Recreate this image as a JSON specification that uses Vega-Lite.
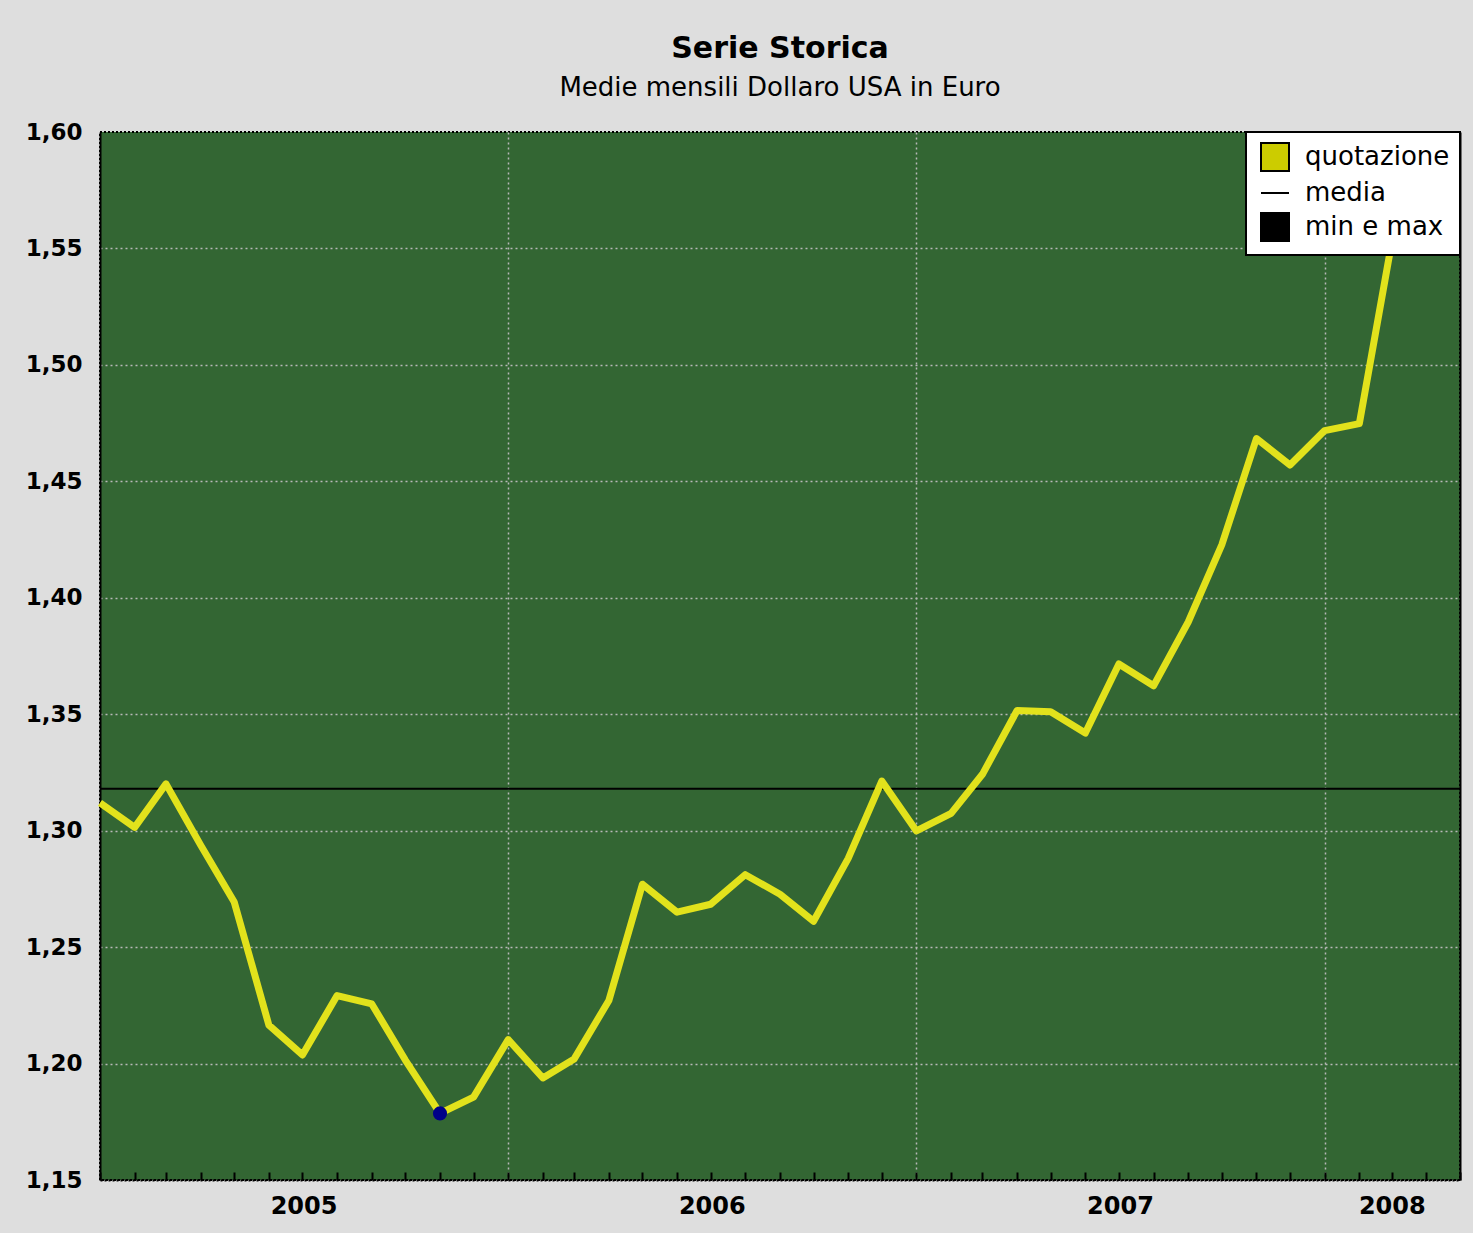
{
  "$schema": "https://vega.github.io/schema/vega-lite/v6.json",
  "autosize": {"type": "none"},
  "width": 1360,
  "height": 1048,
  "padding": {"left": 100, "top": 132, "right": 13, "bottom": 53},
  "background": "#dedede",
  "view": {"fill": "#336633", "stroke": "black", "strokeDash": [2, 2], "strokeWidth": 2},
  "title": {
    "text": "Serie Storica",
    "subtitle": "Medie mensili Dollaro USA in Euro",
    "anchor": "middle",
    "font": "DejaVu Sans",
    "fontSize": 30,
    "fontWeight": "bold",
    "color": "black",
    "subtitleFont": "DejaVu Sans",
    "subtitleFontSize": 26,
    "subtitleColor": "black",
    "subtitlePadding": 11,
    "offset": 20
  },
  "datasets": {
    "quotazione": [
      {"data": "2005-01-01", "valore": 1.3119},
      {"data": "2005-02-01", "valore": 1.3014},
      {"data": "2005-03-01", "valore": 1.3201},
      {"data": "2005-04-01", "valore": 1.2938},
      {"data": "2005-05-01", "valore": 1.2694},
      {"data": "2005-06-01", "valore": 1.2165},
      {"data": "2005-07-01", "valore": 1.2037},
      {"data": "2005-08-01", "valore": 1.2292},
      {"data": "2005-09-01", "valore": 1.2256},
      {"data": "2005-10-01", "valore": 1.2015},
      {"data": "2005-11-01", "valore": 1.1786},
      {"data": "2005-12-01", "valore": 1.1856},
      {"data": "2006-01-01", "valore": 1.2103},
      {"data": "2006-02-01", "valore": 1.1938},
      {"data": "2006-03-01", "valore": 1.2020},
      {"data": "2006-04-01", "valore": 1.2271},
      {"data": "2006-05-01", "valore": 1.2770},
      {"data": "2006-06-01", "valore": 1.2650},
      {"data": "2006-07-01", "valore": 1.2684},
      {"data": "2006-08-01", "valore": 1.2811},
      {"data": "2006-09-01", "valore": 1.2727},
      {"data": "2006-10-01", "valore": 1.2611},
      {"data": "2006-11-01", "valore": 1.2881},
      {"data": "2006-12-01", "valore": 1.3213},
      {"data": "2007-01-01", "valore": 1.2999},
      {"data": "2007-02-01", "valore": 1.3074},
      {"data": "2007-03-01", "valore": 1.3242},
      {"data": "2007-04-01", "valore": 1.3516},
      {"data": "2007-05-01", "valore": 1.3511},
      {"data": "2007-06-01", "valore": 1.3419},
      {"data": "2007-07-01", "valore": 1.3716},
      {"data": "2007-08-01", "valore": 1.3622},
      {"data": "2007-09-01", "valore": 1.3896},
      {"data": "2007-10-01", "valore": 1.4227},
      {"data": "2007-11-01", "valore": 1.4684},
      {"data": "2007-12-01", "valore": 1.4570},
      {"data": "2008-01-01", "valore": 1.4718},
      {"data": "2008-02-01", "valore": 1.4748},
      {"data": "2008-03-01", "valore": 1.5527}
    ],
    "media": [{"media": 1.318}],
    "minmax": [
      {"data": "2005-11-01", "valore": 1.1786},
      {"data": "2008-03-01", "valore": 1.5527}
    ],
    "legenda": [
      {"voce": "quotazione"},
      {"voce": "media"},
      {"voce": "min e max"}
    ]
  },
  "layer": [
    {
      "data": {"name": "media"},
      "mark": {"type": "rule", "color": "black", "strokeWidth": 2},
      "encoding": {
        "y": {
          "field": "media", "type": "quantitative", "title": null,
          "scale": {"domain": [1.15, 1.6], "nice": false, "zero": false},
          "axis": null
        }
      }
    },
    {
      "data": {"name": "quotazione"},
      "mark": {"type": "line", "color": "#e2e21c", "strokeWidth": 7, "strokeJoin": "round", "strokeCap": "butt"},
      "encoding": {
        "x": {
          "field": "data", "type": "temporal", "title": null,
          "scale": {"type": "utc", "domain": [{"year": 2005, "month": 1, "date": 1, "utc": true}, {"year": 2008, "month": 5, "date": 1, "utc": true}], "nice": false},
          "axis": {
            "orient": "bottom",
            "tickCount": {"interval": "month", "step": 1},
            "labels": false,
            "ticks": true,
            "tickSize": -8,
            "tickColor": "black",
            "tickWidth": 2,
            "domain": true,
            "domainColor": "black",
            "domainWidth": 2,
            "domainDash": [2, 2],
            "grid": true,
            "gridColor": "#b8b8b8",
            "gridWidth": 1.5,
            "gridDash": [2, 3],
            "gridOpacity": {"condition": {"test": "utcmonth(datum.value) === 0 && utcyear(datum.value) > 2005", "value": 1}, "value": 0}
          }
        },
        "y": {
          "field": "valore", "type": "quantitative", "title": null,
          "scale": {"domain": [1.15, 1.6], "nice": false, "zero": false},
          "axis": {
            "orient": "left",
            "values": [1.15, 1.2, 1.25, 1.3, 1.35, 1.4, 1.45, 1.5, 1.55, 1.6],
            "labelExpr": "replace(format(datum.value, '.2f'), '.', ',')",
            "labelFont": "DejaVu Sans",
            "labelFontWeight": "bold",
            "labelFontSize": 23,
            "labelColor": "black",
            "labelPadding": 18,
            "labelFlush": false,
            "labelOverlap": false,
            "ticks": false,
            "domain": true,
            "domainColor": "black",
            "domainWidth": 2,
            "grid": true,
            "gridColor": "#b8b8b8",
            "gridWidth": 1.5,
            "gridDash": [2, 3],
            "gridOpacity": {"condition": {"test": "datum.value > 1.59 || datum.value < 1.16", "value": 0}, "value": 1}
          }
        }
      }
    },
    {
      "data": {"name": "minmax"},
      "mark": {"type": "point", "filled": true, "shape": "circle", "color": "#000088", "size": 200, "opacity": 1},
      "encoding": {
        "x": {
          "field": "data", "type": "temporal", "title": null,
          "scale": {"type": "utc", "domain": [{"year": 2005, "month": 1, "date": 1, "utc": true}, {"year": 2008, "month": 5, "date": 1, "utc": true}], "nice": false},
          "axis": {
            "orient": "bottom",
            "values": [
              {"year": 2005, "month": 7, "date": 2, "utc": true},
              {"year": 2006, "month": 7, "date": 2, "utc": true},
              {"year": 2007, "month": 7, "date": 2, "utc": true},
              {"year": 2008, "month": 3, "date": 1, "utc": true}
            ],
            "format": "%Y",
            "labelFont": "DejaVu Sans",
            "labelFontWeight": "bold",
            "labelFontSize": 24,
            "labelColor": "black",
            "labelPadding": 14,
            "labelFlush": false,
            "labelOverlap": false,
            "ticks": false,
            "domain": false,
            "grid": false
          }
        },
        "y": {
          "field": "valore", "type": "quantitative", "title": null,
          "scale": {"domain": [1.15, 1.6], "nice": false, "zero": false},
          "axis": {
            "orient": "right",
            "labels": false,
            "ticks": false,
            "grid": false,
            "domain": true,
            "domainColor": "black",
            "domainWidth": 2
          }
        }
      }
    },
    {
      "data": {"name": "legenda"},
      "mark": {"type": "point", "filled": true, "opacity": 0},
      "encoding": {
        "color": {
          "field": "voce", "type": "nominal",
          "scale": {"domain": ["quotazione", "media", "min e max"], "range": ["#cccc00", "#000000", "#000000"]},
          "legend": {
            "title": null,
            "orient": "top-right",
            "offset": 0,
            "padding": 10,
            "fillColor": "white",
            "strokeColor": "black",
            "symbolType": "square",
            "symbolSize": 784,
            "symbolOffset": 4,
            "symbolOpacity": 1,
            "symbolStrokeColor": "black",
            "symbolStrokeWidth": 2,
            "labelFont": "DejaVu Sans",
            "labelFontSize": 26,
            "labelColor": "black",
            "labelOffset": 15,
            "rowPadding": 3,
            "encode": {
              "legend": {
                "update": {
                  "strokeWidth": {"value": 2}
                }
              },
              "symbols": {
                "update": {
                  "shape": {"signal": "datum.value === 'media' ? 'stroke' : 'square'"},
                  "stroke": {"value": "black"},
                  "strokeWidth": {"value": 2},
                  "opacity": {"value": 1}
                }
              }
            }
          }
        }
      }
    }
  ],
  "resolve": {"axis": {"x": "independent", "y": "independent"}},
  "config": {
    "view": {"fill": "#336633", "stroke": "black", "strokeDash": [2, 2], "strokeWidth": 2},
    "style": {"cell": {"fill": "#336633"}}
  }
}
